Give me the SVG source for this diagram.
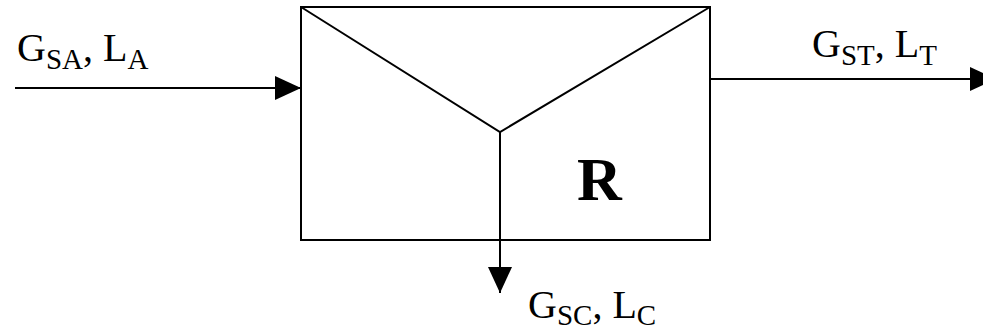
<svg xmlns="http://www.w3.org/2000/svg" width="983" height="332" viewBox="0 0 983 332">
<style>
.ln{stroke:#000;stroke-width:2;fill:none}
.t{font-family:"Liberation Serif","Times New Roman",serif;font-size:40px;fill:#000}
.s{font-size:29px}
.b{font-family:"Liberation Serif","Times New Roman",serif;font-size:62px;font-weight:bold;fill:#000}
</style>
<defs>
<marker id="ah" markerUnits="userSpaceOnUse" markerWidth="26" markerHeight="24" refX="26" refY="12" orient="auto">
<path d="M0,0 L26,12 L0,24 Z" fill="#000"/>
</marker>
</defs>
<rect width="983" height="332" fill="#fff"/>
<g id="reactor">
<rect class="ln" x="301" y="7" width="409" height="233"/>
<path class="ln" d="M301,7 L500,132 L710,7"/>
<text class="b" x="577" y="200">R</text>
</g>
<g id="connectors">
<line class="ln" x1="15" y1="88" x2="301" y2="88" marker-end="url(#ah)"/>
<line class="ln" x1="710" y1="79" x2="996" y2="79" marker-end="url(#ah)"/>
<line class="ln" x1="500" y1="132" x2="500" y2="293" stroke-width="1.6" marker-end="url(#ah)"/>
</g>
<g id="label-in">
<text class="t" x="17" y="61">G<tspan class="s" dy="8">SA</tspan><tspan dy="-8">, L</tspan><tspan class="s" dy="8">A</tspan></text>
</g>
<g id="label-top">
<text class="t" x="812" y="57">G<tspan class="s" dy="8">ST</tspan><tspan dy="-8">, L</tspan><tspan class="s" dy="8">T</tspan></text>
</g>
<g id="label-bottom">
<text class="t" x="528" y="318">G<tspan class="s" dy="7">SC</tspan><tspan dy="-7">, L</tspan><tspan class="s" dy="7">C</tspan></text>
</g>
</svg>
